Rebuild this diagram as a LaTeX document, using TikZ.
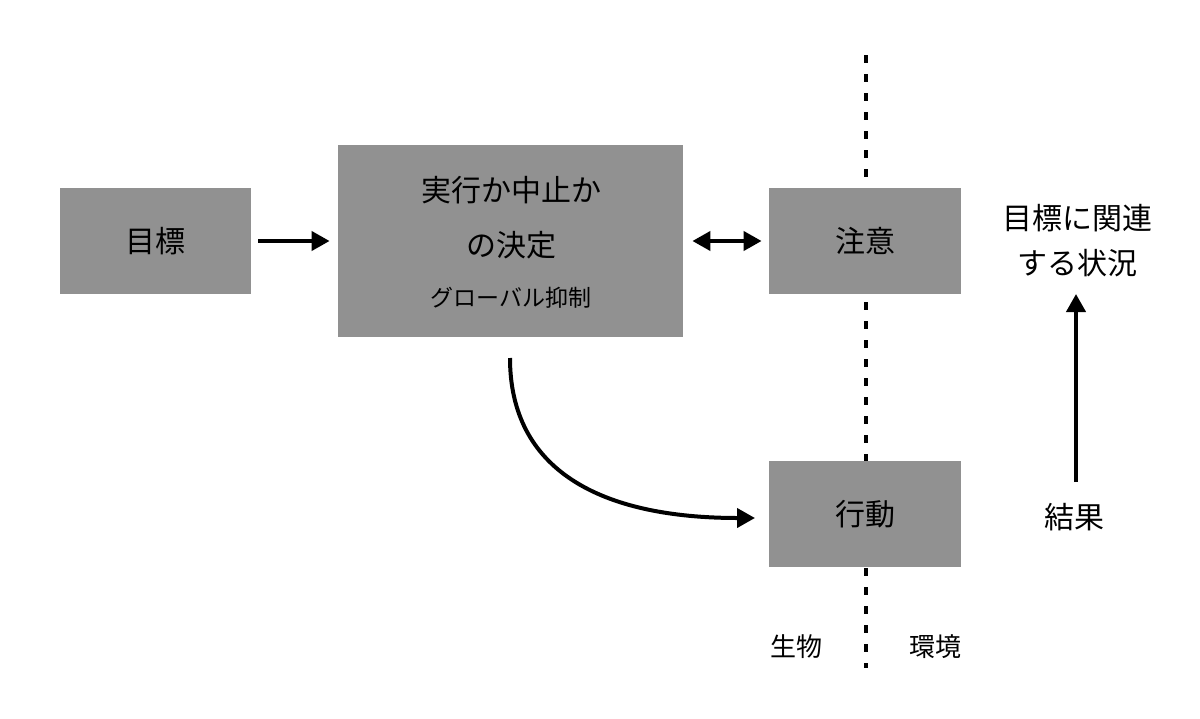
\documentclass[tikz,border=0pt]{standalone}
\usepackage{fontspec}
\setmainfont{Noto Sans CJK JP}
\usetikzlibrary{arrows.meta}
\definecolor{boxgray}{RGB}{145,145,145}
\begin{document}
\begin{tikzpicture}[x=0.5pt,y=-0.5pt,
  box/.style={draw=none,fill=boxgray,inner sep=0pt},
  lbl/.style={inner sep=0pt,font=\fontsize{15}{18}\selectfont},
  small/.style={inner sep=0pt,font=\fontsize{11.5}{14}\selectfont},
  side/.style={inner sep=0pt,font=\fontsize{13}{16}\selectfont},
  conn/.style={line width=2pt,-{Triangle[length=9pt,width=9.5pt]}},
  dconn/.style={line width=2pt,{Triangle[length=9pt,width=9.5pt]}-{Triangle[length=9pt,width=9.5pt]}},
  border/.style={line width=2pt,dash pattern=on 4pt off 5.5pt}]
\useasboundingbox (0,0) rectangle (1200,718);
\fill[white] (0,0) rectangle (1200,718);
% boundary line
\coordinate (btop) at (866,55);
\coordinate (bbot) at (866,668);
\draw[border] (btop) -- (bbot);
% boxes
\node[box,minimum width=95.5pt,minimum height=53pt] (goal) at (155.5,241) {};
\node[lbl] (goalt) at (goal.center) {目標};
\node[box,minimum width=172.5pt,minimum height=96pt] (dec) at (510.5,241) {};
\node[lbl] (dec1) at (511,190) {実行か中止か};
\node[lbl] (dec2) at (511,245) {の決定};
\node[small] (dec3) at (511,298) {グローバル抑制};
\node[box,minimum width=96pt,minimum height=53pt] (att) at (865,241) {};
\node[lbl] (attt) at (att.center) {注意};
\node[box,minimum width=96pt,minimum height=53pt] (act) at (865,514) {};
\node[lbl] (actt) at (act.center) {行動};
% right side texts
\node[lbl] (sit1) at (1077,218) {目標に関連};
\node[lbl] (sit2) at (1077,263) {する状況};
\node[lbl] (res) at (1074,517) {結果};
\node[side] (org) at (796,647) {生物};
\node[side] (env) at (935,647) {環境};
% connectors
\draw[conn,shorten <=3.5pt,shorten >=4pt] (goal.east) -- (dec.west);
\draw[dconn,shorten <=4.5pt,shorten >=3.5pt] (dec.east) -- (att.west);
\coordinate (cstart) at (510,358);
\coordinate (cend) at (755,518);
\draw[conn] (cstart) .. controls (510,470) and (600,518) .. (cend);
\coordinate (upbot) at (1076,482);
\coordinate (uptop) at (1076,294);
\draw[conn] (upbot) -- (uptop);
\end{tikzpicture}
\end{document}
